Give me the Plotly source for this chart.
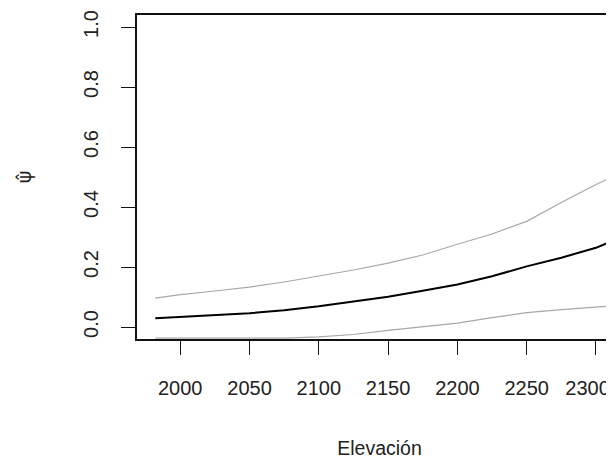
import plotly.graph_objects as go

elevation = [1982, 2000, 2025, 2050, 2075, 2100, 2125, 2150, 2175, 2200, 2225, 2250, 2275, 2300, 2311]
psi_mean = [0.029, 0.033, 0.039, 0.046, 0.056, 0.069, 0.085, 0.101, 0.121, 0.142, 0.169, 0.202, 0.231, 0.264, 0.285]
psi_upper = [0.096, 0.108, 0.120, 0.133, 0.150, 0.170, 0.190, 0.213, 0.240, 0.276, 0.310, 0.352, 0.415, 0.475, 0.498]
psi_lower = [-0.037, -0.037, -0.037, -0.037, -0.037, -0.033, -0.025, -0.011, 0.000, 0.013, 0.031, 0.048, 0.058, 0.067, 0.070]

x_ticks = [2000, 2050, 2100, 2150, 2200, 2250, 2300]
x_tick_labels = ["2000", "2050", "2100", "2150", "2200", "2250", "2300\u00a0\u00a0\u00a0"]
y_ticks = [0.0, 0.2, 0.4, 0.6, 0.8, 1.0]
y_tick_labels = ["0.0", "0.2", "0.4", "0.6", "0.8", "1.0"]

fig = go.Figure()
fig.add_trace(go.Scatter(x=elevation, y=psi_upper, mode="lines",
                         line=dict(color="#a8a8a8", width=1.2), showlegend=False))
fig.add_trace(go.Scatter(x=elevation, y=psi_lower, mode="lines",
                         line=dict(color="#a8a8a8", width=1.2), showlegend=False))
fig.add_trace(go.Scatter(x=elevation, y=psi_mean, mode="lines",
                         line=dict(color="#000000", width=2), showlegend=False))

tick_font = dict(family="Liberation Sans, Arial, sans-serif", size=20, color="#222222")
title_font = dict(family="Liberation Sans, Arial, sans-serif", size=19.5, color="#222222")
psi_font = dict(family="DejaVu Sans, sans-serif", size=19, color="#222222")

fig.update_layout(
    width=614, height=459,
    margin=dict(l=129, r=0, t=7, b=128, autoexpand=False),
    paper_bgcolor="white", plot_bgcolor="white",
    font=tick_font,
)
fig.update_xaxes(
    range=[1968.8, 2318.8], tickvals=x_ticks, ticktext=x_tick_labels,
    tickfont=tick_font, ticklabeloverflow="allow",
    showgrid=False, zeroline=False, showline=True, linecolor="#111111", linewidth=1.6,
    mirror=True, ticks="outside", ticklen=14, tickwidth=1.4, tickcolor="#111111",
    ticklabelstandoff=16,
    title=dict(text="Elevación", font=title_font, standoff=44),
)
fig.update_yaxes(
    range=[-0.04, 1.04], tickvals=y_ticks, ticktext=y_tick_labels, tickangle=-90,
    tickfont=tick_font,
    showgrid=False, zeroline=False, showline=True, linecolor="#111111", linewidth=1.6,
    mirror=False, ticks="outside", ticklen=14, tickwidth=1.4, tickcolor="#111111",
    ticklabelstandoff=15,
    title=dict(text="ψ\u0302", font=psi_font, standoff=44),
)

fig.write_html("out.html")
